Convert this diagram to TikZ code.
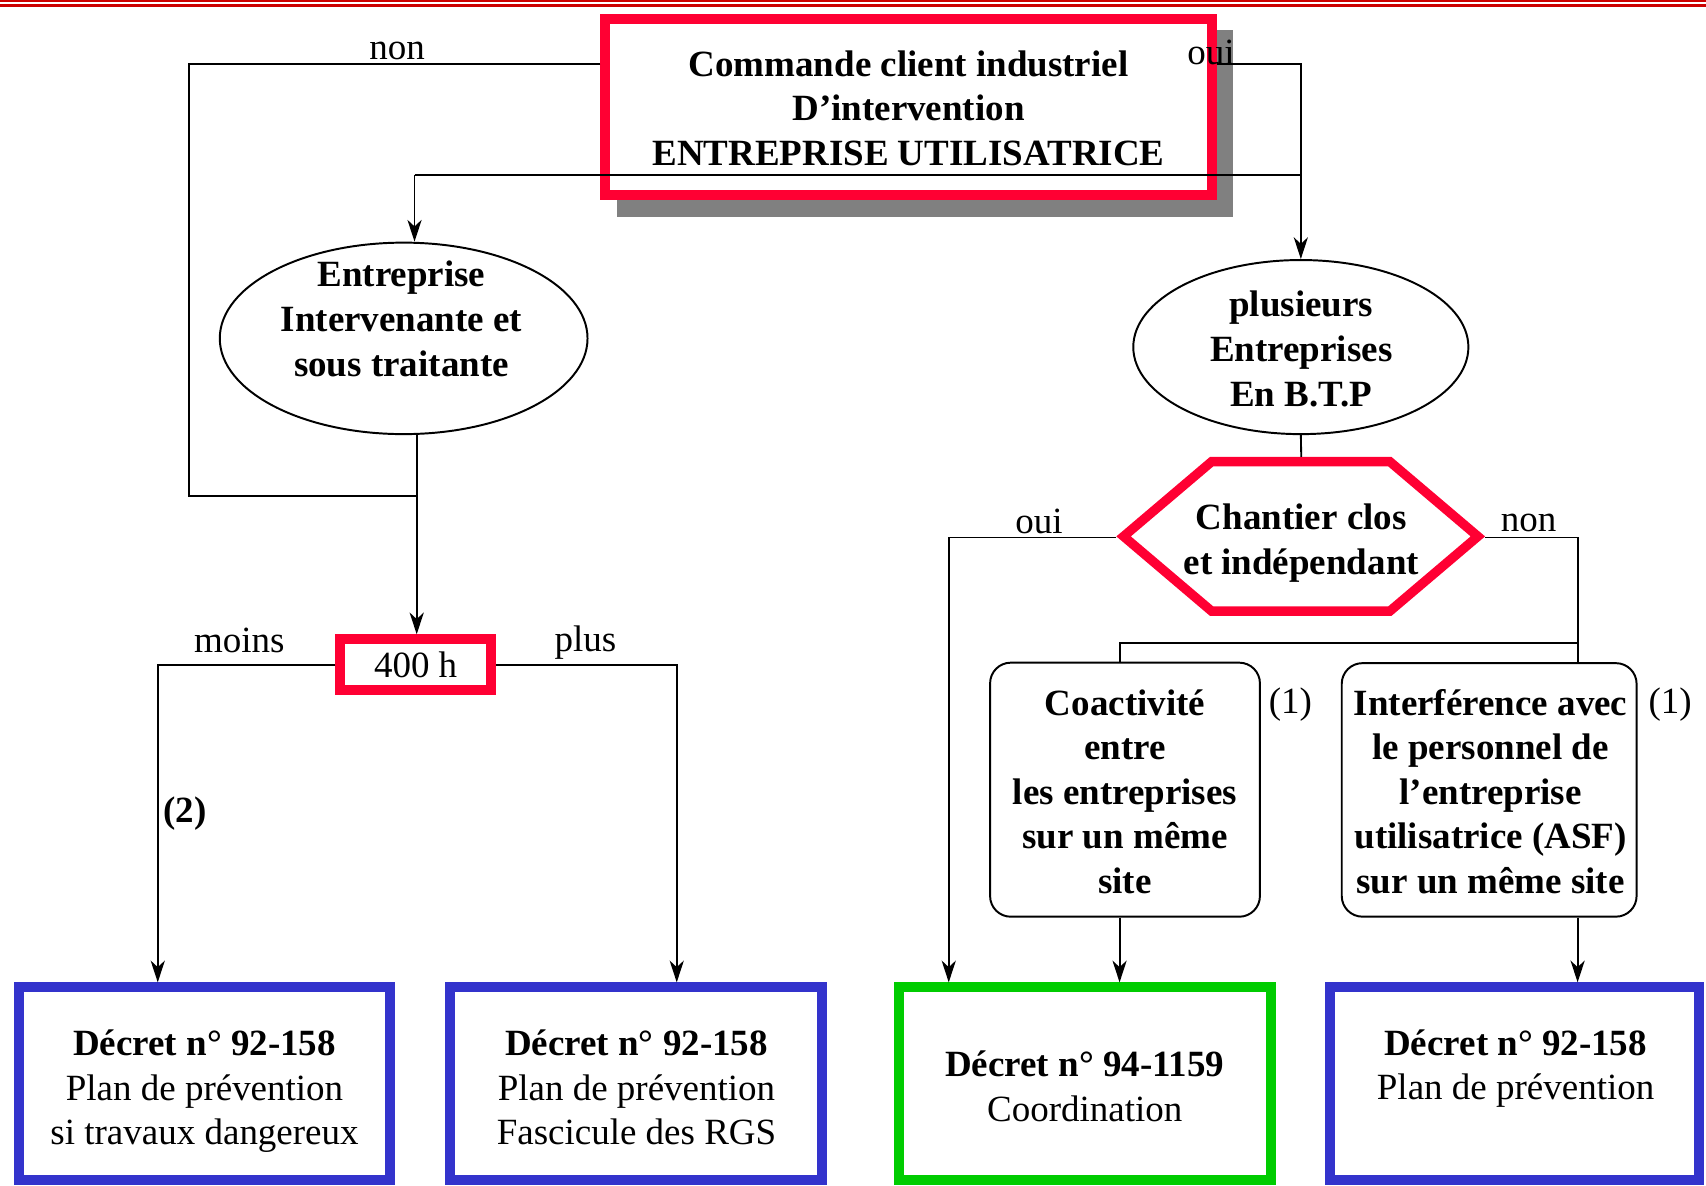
\documentclass[tikz,border=0pt]{standalone}
\usepackage{fontspec}
\setmainfont{Liberation Serif}
\usetikzlibrary{arrows.meta,shapes.geometric}

\definecolor{redB}{HTML}{FF0033}
\definecolor{blueB}{HTML}{3333CC}
\definecolor{greenB}{HTML}{00CC00}
\definecolor{shadowG}{HTML}{808080}
\definecolor{topR}{HTML}{CC0000}

\tikzset{
  txt/.style={font=\fontsize{34}{41}\selectfont, inner sep=0pt, align=center},
  btxt/.style={font=\fontsize{34}{41}\selectfont\bfseries, inner sep=0pt, align=center},
  lbl/.style={font=\fontsize{34}{41}\selectfont, inner sep=0pt},
  thickbox/.style={draw=#1, line width=9.2pt, fill=white, rectangle, inner sep=0pt},
  oval/.style={draw, ellipse, line width=1.8pt, fill=white, inner sep=0pt},
  rbox/.style={draw, rectangle, rounded corners=19pt, line width=1.8pt, fill=white, inner sep=0pt},
  conn/.style={line width=1.7pt},
  arr/.style={conn, -{Stealth[length=20pt,width=13pt,inset=6pt]}},
}

\begin{document}
\begin{tikzpicture}[x=1pt,y=-1pt]
\useasboundingbox (0,0) rectangle (1568,1090);
\fill[white] (0,0) rectangle (1568,1090);

% top double rule
\draw[topR, line width=1.5pt] (0,0.75) -- (1568,0.75);
\draw[topR, line width=2.4pt] (0,4.9) -- (1568,4.9);

% top box with shadow
\fill[shadowG] (567,28) rectangle (1133,199);
\node[thickbox=redB, minimum width=557pt, minimum height=162pt] (cmd) at (835,98.5) {};
\node[btxt] (cmdT) at (835,103) {\strut Commande client industriel\\\strut D’intervention\\\strut ENTREPRISE UTILISATRICE};

% ellipses
\node[oval, minimum width=338pt, minimum height=176pt] (eiEll) at (371,311) {};
\node[btxt] (eiT) at (369,296.5) {\strut Entreprise\\\strut Intervenante et\\\strut sous traitante};
\node[oval, minimum width=308pt, minimum height=160pt] (btpEll) at (1195.6,319) {};
\node[btxt] (btpT) at (1196,324) {\strut plusieurs\\\strut Entreprises\\\strut En B.T.P};

% hexagon decision
\draw[redB, line width=8.6pt, line join=miter, fill=white] (1032.7,493) -- (1113.6,424.3) -- (1277.4,424.3) -- (1358.3,493) -- (1277.4,561.7) -- (1113.6,561.7) -- cycle;
\coordinate (hexL) at (1026,494);
\coordinate (hexR) at (1365,494);
\coordinate (hexT) at (1196,420);
\node[btxt] (chT) at (1196,499) {\strut Chantier clos\\\strut et indépendant};

% 400 h
\node[thickbox=redB, line width=9pt, minimum width=139pt, minimum height=47pt, font=\fontsize{34}{41}\selectfont] (h400) at (382,611) {400 h};

% rounded boxes
\node[rbox, minimum width=248pt, minimum height=233.5pt] (coact) at (1034,725.8) {};
\node[btxt] (coactT) at (1034,731) {\strut Coactivité\\\strut entre\\\strut les entreprises\\\strut sur un même\\\strut site};
\node[rbox, minimum width=271pt, minimum height=233pt] (interf) at (1368.7,726) {};
\node[btxt] (interfT) at (1370,731) {\strut Interférence avec\\\strut le personnel de\\\strut l’entreprise\\\strut utilisatrice (ASF)\\\strut sur un même site};

% bottom boxes
\node[thickbox=blueB, minimum width=341.8pt, minimum height=177pt] (d1) at (188,996) {};
\node[txt] (d1T) at (188,1003) {{\bfseries\strut Décret n° 92-158}\\\strut Plan de prévention\\\strut si travaux dangereux};
\node[thickbox=blueB, minimum width=341.8pt, minimum height=177pt] (d2) at (584.5,996) {};
\node[txt] (d2T) at (585,1003) {{\bfseries\strut Décret n° 92-158}\\\strut Plan de prévention\\\strut Fascicule des RGS};
\node[thickbox=greenB, minimum width=342.2pt, minimum height=177pt] (d3) at (997.2,996) {};
\node[txt] (d3T) at (997,1002) {{\bfseries\strut Décret n° 94-1159}\\\strut Coordination};
\node[thickbox=blueB, minimum width=338.8pt, minimum height=177pt] (d4) at (1392,996) {};
\node[txt] (d4T) at (1393,982) {{\bfseries\strut Décret n° 92-158}\\\strut Plan de prévention};

% connectors
\draw[conn] (cmd.west |- 0,59) -- (174,59) |- (eiEll.south |- 0,456) -| (383,456);
\draw[conn] (381,161) -- (1196,161);
\draw[arr] (381,161) -- (eiEll.north -| 381,0);
\draw[arr] (cmd.east |- 0,59) -| (btpEll.north);
\draw[arr] (eiEll.south -| 383,0) -- (h400.north -| 383,0);
\draw[arr] (h400.west) -| (d1.north -| 145,0);
\draw[arr] (h400.east) -| (d2.north -| 622,0);
\draw[conn] (btpEll.south) -- (hexT);
\draw[arr] (hexL) -| (d3.north -| 872,0);
\draw[conn] (hexR) -| (interf.north -| 1450,0);
\draw[conn] (1450,591) -| (coact.north -| 1029,0);
\draw[arr] (coact.south -| 1029,0) -- (d3.north -| 1029,0);
\draw[arr] (interf.south -| 1450,0) -- (d4.north -| 1450,0);

% labels
\node[lbl] (lNon1) at (365,47) {non};
\node[lbl] (lOui1) at (1113,48) {oui};
\node[lbl] (lMoins) at (220,589) {moins};
\node[lbl] (lPlus) at (538,591) {plus};
\node[lbl, font=\fontsize{34}{41}\selectfont\bfseries] (lTwo) at (170,748) {(2)};
\node[lbl] (lOui2) at (955,479) {oui};
\node[lbl] (lNon2) at (1405,481) {non};
\node[lbl] (lOneA) at (1186,648) {(1)};
\node[lbl] (lOneB) at (1535,648) {(1)};
\end{tikzpicture}
\end{document}
